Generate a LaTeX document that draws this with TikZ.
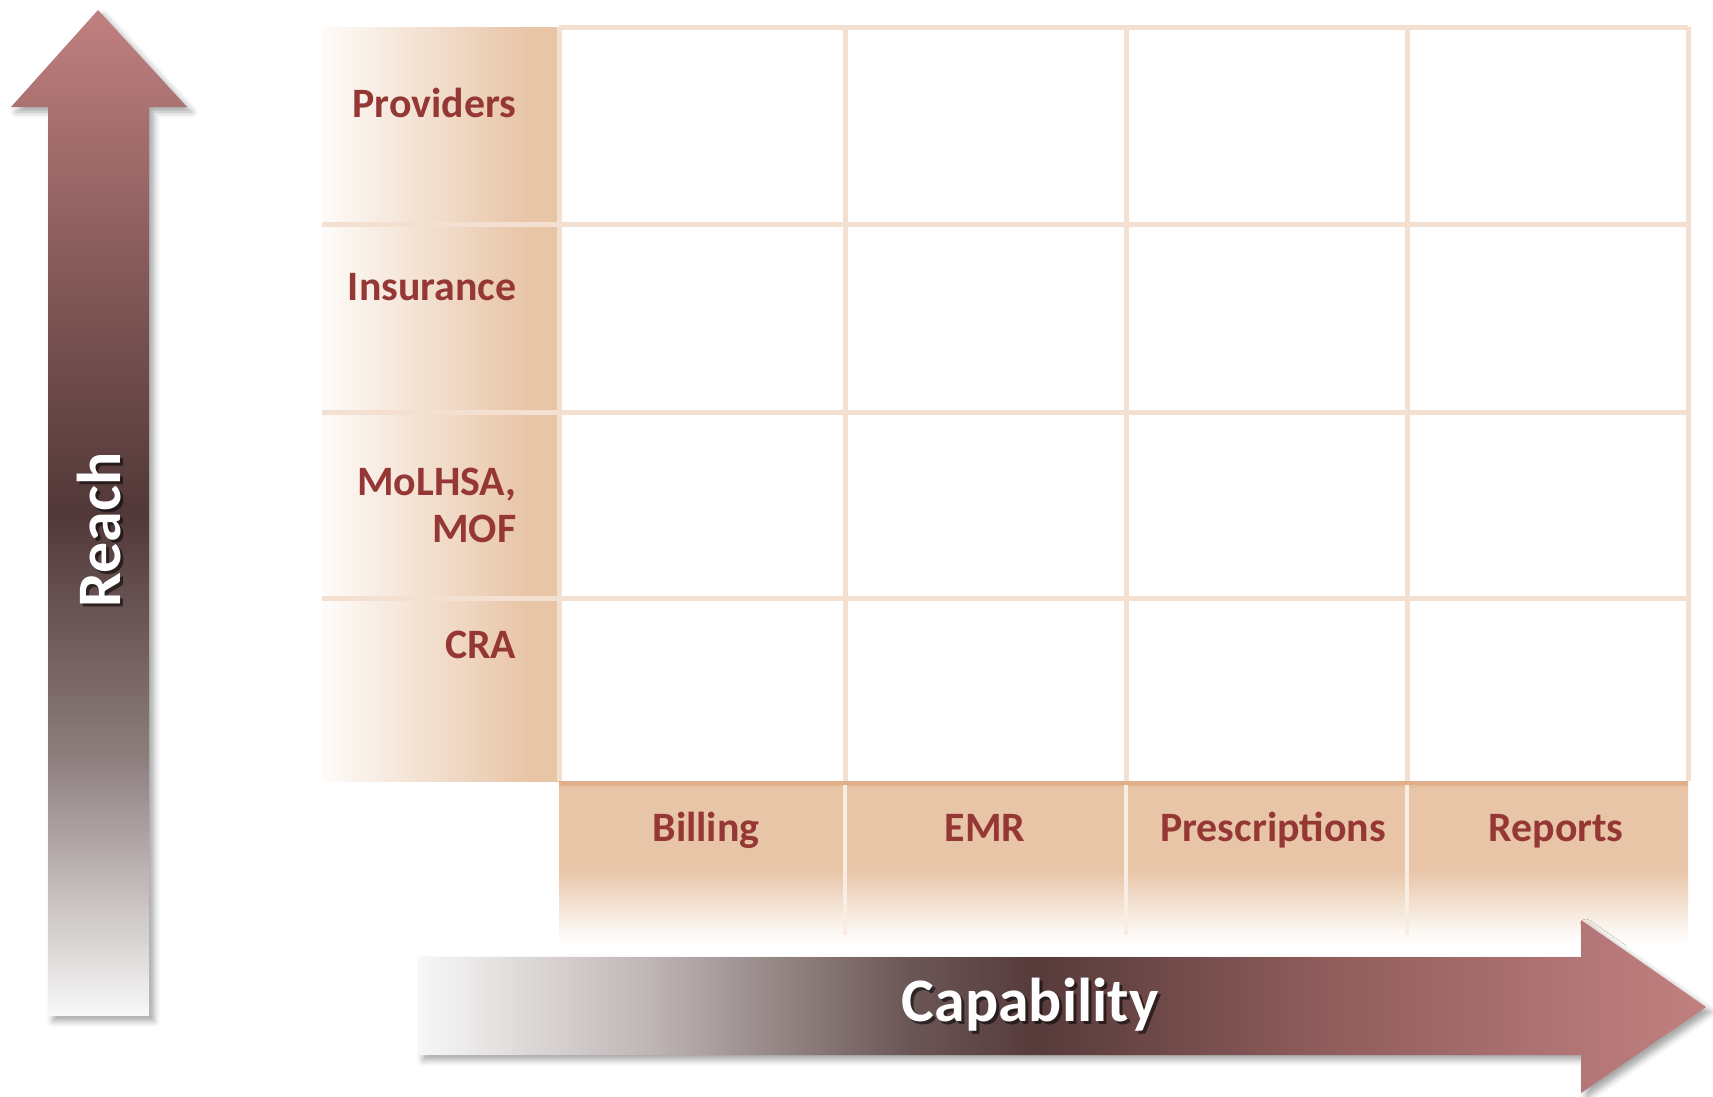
\documentclass[tikz,border=0pt]{standalone}
\usepackage{fontspec}
\setmainfont{Carlito}
\usetikzlibrary{shadows.blur}
\definecolor{tan}{HTML}{E8C5A7}
\definecolor{tandark}{HTML}{E0AE88}
\definecolor{gridline}{HTML}{F3E0D1}
\definecolor{labelred}{HTML}{953735}
\definecolor{pinkend}{HTML}{C18080}
\pgfdeclareverticalshading{reachshade}{100bp}{color(0bp)=(white!97!black); color(25bp)=(white!97!black);
  rgb(31bp)=(.78,.75,.75); rgb(38bp)=(.55,.49,.49); rgb(50bp)=(.32,.22,.22); rgb(62bp)=(.52,.35,.35);
  color(75bp)=(pinkend); color(100bp)=(pinkend)}
\pgfdeclarehorizontalshading{capshade}{100bp}{color(0bp)=(white!97!black); color(25bp)=(white!97!black);
  rgb(34bp)=(.75,.71,.71); rgb(44bp)=(.42,.34,.34); rgb(49bp)=(.34,.23,.23); rgb(60bp)=(.56,.36,.36);
  rgb(70bp)=(.70,.46,.46); color(75bp)=(pinkend); color(100bp)=(pinkend)}
\pgfdeclarehorizontalshading{rowhead}{100bp}{color(0bp)=(tan!6); color(25bp)=(tan!6);
  color(50bp)=(tan!60); color(68bp)=(tan); color(100bp)=(tan)}
\pgfdeclareverticalshading{colhead}{100bp}{color(0bp)=(white); color(25bp)=(white); color(29bp)=(tan!12);
  color(36bp)=(tan!45); color(48bp)=(tan); color(73bp)=(tan); color(75bp)=(tandark); color(100bp)=(tandark)}
\begin{document}
\begin{tikzpicture}[x=0.01cm,y=-0.01cm,
  rowlab/.style={anchor=base east,text=labelred,font=\fontsize{11.9}{13.3}\selectfont\bfseries,align=right,inner sep=0},
  collab/.style={anchor=base,text=labelred,font=\fontsize{11.9}{13.3}\selectfont\bfseries,inner sep=0},
  axislab/.style={anchor=base,text=white,font=\fontsize{17.6}{20}\selectfont\bfseries,inner sep=0},
  axisshadow/.style={axislab,text=black,text opacity=.55},
  gridln/.style={gridline,line width=0.05cm},
  arrowshadow/.style={blur shadow={shadow xshift=0.05cm,shadow yshift=-0.05cm,shadow blur radius=0.06cm,shadow opacity=35}}]
    \useasboundingbox (0,0) rectangle (1713,1096);
    \shade[shading=rowhead] (322,27) rectangle (559,781);
    \shade[shading=colhead] (559,781) rectangle (1688,945);
    \fill[white] (559,27) rectangle (1688,781);
    \foreach \x in {845,1126,1407} \draw[gridline!60!white,line width=0.04cm] (\x,781) -- (\x,935);
    \foreach \y in {224,412,598} \draw[gridln] (322,\y) -- (559,\y);
    \foreach \x in {559,845,1126,1407,1688} \draw[gridln] (\x,27) -- (\x,781);
    \foreach \y in {27,224,412,598} \draw[gridln] (559,\y) -- (1688,\y);
    \draw[tandark,line width=0.04cm] (559,783) -- (1688,783);
    \shade[shading=reachshade,arrowshadow] (48,1016) -- (48,107) -- (11,107) -- (98,10) -- (187,107) -- (149,107) -- (149,1016) -- cycle;
    \shade[shading=capshade,arrowshadow] (418,957) -- (1581,957) -- (1581,920) -- (1706,1007) -- (1581,1093) -- (1581,1055) -- (418,1055) -- cycle;
    \node[rowlab] (prov) at (517,117) {Providers};
    \node[rowlab] (ins) at (517,300) {Insurance};
    \node[rowlab] (mol) at (517,542) {MoLHSA,\\MOF};
    \node[rowlab] (cra) at (517,658) {CRA};
    \node[collab] (bill) at (706,841) {Billing};
    \node[collab] (emr) at (985,841) {EMR};
    \node[collab] (presc) at (1273,841) {Prescriptions};
    \node[collab] (rep) at (1556,841) {Reports};
    \node[axisshadow] (capsh) at (1033,1024) {Capability};
    \node[axislab] (cap) at (1030,1021) {Capability};
    \node[axisshadow,rotate=90] (reachsh) at (123,533) {Reach};
    \node[axislab,rotate=90] (reach) at (120,530) {Reach};
\end{tikzpicture}
\end{document}
